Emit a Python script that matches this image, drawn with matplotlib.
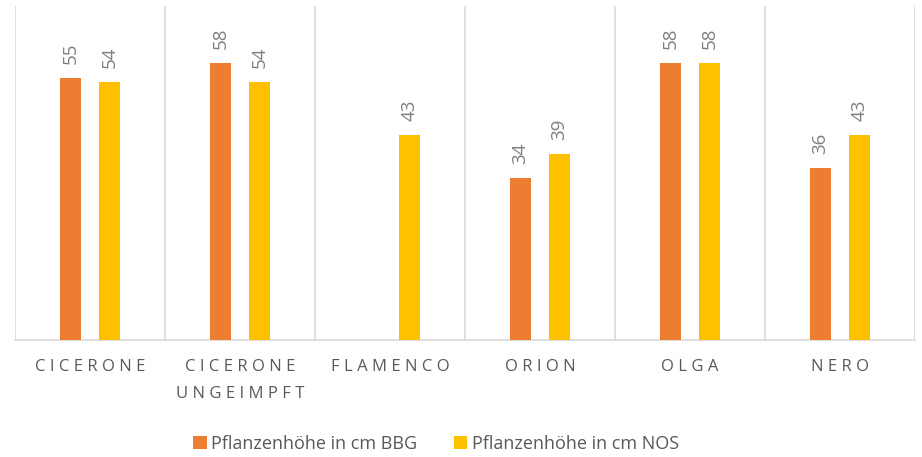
import matplotlib.pyplot as plt
import numpy as np

# data
sorten = ["CICERONE", "CICERONE\nUNGEIMPFT", "FLAMENCO", "ORION", "OLGA", "NERO"]
hoehe_bbg = [55, 58, np.nan, 34, 58, 36]
hoehe_nos = [54, 54, 43, 39, 58, 43]
serien = ["Pflanzenhöhe in cm BBG", "Pflanzenhöhe in cm NOS"]

ORANGE = "#ED7D31"
GELB = "#FFC000"
GRID = "#D9D9D9"

plt.rcParams['font.family'] = ['Open Sans', 'DejaVu Sans']

fig = plt.figure(figsize=(9.22, 4.57), dpi=100)
ax = fig.add_axes([15/922, 117/457, 900/922, 334/457])

x = np.arange(len(sorten))
breite = 0.135
off = 0.13

b1 = ax.bar(x - off, hoehe_bbg, breite, color=ORANGE, label=serien[0], zorder=3)
b2 = ax.bar(x + off, hoehe_nos, breite, color=GELB, label=serien[1], zorder=3)

for bars, werte in ((b1, hoehe_bbg), (b2, hoehe_nos)):
    for rect, w in zip(bars, werte):
        if np.isnan(w):
            continue
        ax.annotate(f"{w:.0f}", (rect.get_x() + rect.get_width() / 2, w),
                    xytext=(0, 10), textcoords="offset points",
                    rotation=90, ha="center", va="bottom",
                    fontsize=13.5, color="#7F7F7F")

ax.set_xlim(-0.5, len(sorten) - 0.5)
ax.set_ylim(0, 70)
ax.set_yticks([])

# vertical separators between categories
for g in np.arange(-0.5, len(sorten), 1.0):
    ax.axvline(g, color=GRID, lw=1.2, zorder=1)

for s in ["top", "left", "right"]:
    ax.spines[s].set_visible(False)
ax.spines["bottom"].set_color(GRID)
ax.spines["bottom"].set_linewidth(1.2)

# letter spaced tick labels
def sperren(t):
    return "\n".join(" ".join(list(zeile)) for zeile in t.split("\n"))

ax.set_xticks(x)
ax.set_xticklabels([sperren(s) for s in sorten], fontsize=12, color="#595959",
                   linespacing=1.9)
ax.tick_params(axis="x", length=0, pad=14)

fig.legend(handles=[b1, b2], loc="center", bbox_to_anchor=(436/922, 13/457),
           ncol=2, frameon=False, fontsize=13, handlelength=0.75,
           handleheight=0.75, handletextpad=0.25, columnspacing=2.0,
           labelcolor="#595959")

fig.savefig("out.png", dpi=100)
